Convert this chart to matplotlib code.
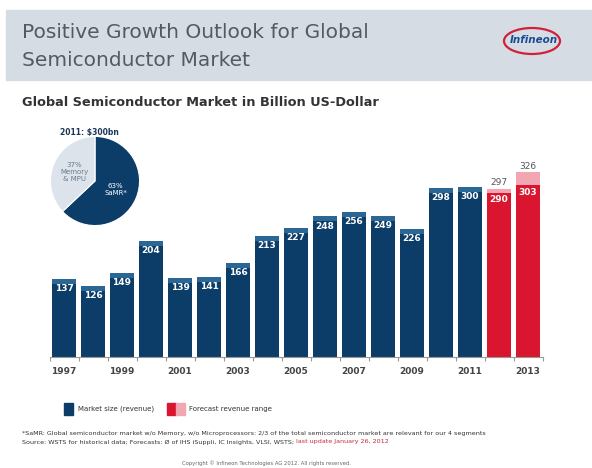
import matplotlib.pyplot as plt
from matplotlib.patches import Rectangle, Ellipse

# market size in billion US-Dollar
years = list(range(1997, 2014))
revenue = [137, 126, 149, 204, 139, 141, 166, 213, 227, 248, 256, 249, 226, 298, 300]
forecast_years = [2012, 2013]
forecast_low = [290, 303]
forecast_high = [297, 326]

pie_values = [63, 37]
pie_labels = ['63%\nSaMR*', '37%\nMemory\n& MPU']

navy = '#0c3d69'
navy_top = '#2b6794'
red = '#d9152f'
pink = '#f2a6b2'

W, H = 592, 468
fig = plt.figure(figsize=(W / 100, H / 100), dpi=100)


def fx(px):
    return px / W


def fy(py):
    return 1 - py / H


# header band
fig.patches.append(Rectangle((fx(6), fy(80)), fx(586), 70 / H, transform=fig.transFigure,
                             color='#d6dce4', zorder=0))
fig.text(fx(22), fy(32), 'Positive Growth Outlook for Global', fontsize=14.5, color='#555a60',
         va='center', family='DejaVu Sans')
fig.text(fx(22), fy(60), 'Semiconductor Market', fontsize=14.5, color='#555a60',
         va='center', family='DejaVu Sans')

# logo
fig.patches.append(Ellipse((fx(532), fy(41)), fx(56), 26 / H, transform=fig.transFigure,
                           fill=False, edgecolor='#d0203a', lw=1.6, zorder=2))
fig.text(fx(534), fy(40), 'Infineon', fontsize=7.5, color='#1a4c96', weight='bold',
         style='italic', ha='center', va='center', zorder=3)

fig.text(fx(22), fy(103), 'Global Semiconductor Market in Billion US-Dollar', fontsize=9.3,
         weight='bold', color='#333333', va='center')

# bar chart
ax = fig.add_axes([fx(49.5), fy(357), fx(493), 192.8 / H])
ax.set_xlim(-0.5, len(years) - 0.5)
ax.set_ylim(0, 340)
bw = 0.86
cap = 9

xs = list(range(len(revenue)))
ax.bar(xs, revenue, width=bw, color=navy, zorder=2)
ax.bar(xs, [cap] * len(revenue), bottom=[v - cap for v in revenue], width=bw,
       color=navy_top, zorder=3)
for x, v in zip(xs, revenue):
    ax.text(x, v - 17, str(v), ha='center', va='center', color='white', fontsize=6.5,
            weight='bold', zorder=4)

fxs = [years.index(y) for y in forecast_years]
ax.bar(fxs, forecast_low, width=bw, color=red, zorder=2)
ax.bar(fxs, [h - l for l, h in zip(forecast_low, forecast_high)], bottom=forecast_low,
       width=bw, color=pink, zorder=2)
for x, lo, hi in zip(fxs, forecast_low, forecast_high):
    ax.text(x, lo - 13, str(lo), ha='center', va='center', color='white', fontsize=6.5,
            weight='bold', zorder=4)
    ax.text(x, hi + 10, str(hi), ha='center', va='center', color='#555555', fontsize=6.5,
            zorder=4)

for s in ['top', 'right', 'left']:
    ax.spines[s].set_visible(False)
ax.spines['bottom'].set_color('#999999')
ax.spines['bottom'].set_linewidth(0.8)
ax.set_yticks([])
ax.set_xticks(range(0, len(years), 2))
ax.set_xticklabels([str(y) for y in years[::2]], fontsize=6.5, color='#444444', weight='bold')
ax.tick_params(axis='x', length=0, pad=7)
ax.set_xticks([i + 0.5 for i in range(-1, len(years))], minor=True)
ax.tick_params(axis='x', which='minor', length=3, color='#999999', width=0.8)
ax.patch.set_alpha(0)

# pie inset
pax = fig.add_axes([fx(50), fy(226), fx(90), 90 / H])
wedges, texts = pax.pie(pie_values, colors=[navy, '#dde3eb'], startangle=90, counterclock=False,
                        labels=pie_labels, labeldistance=0.5,
                        wedgeprops=dict(edgecolor='white', linewidth=0.8))
pax.set_xlim(-1.01, 1.01)
pax.set_ylim(-1.01, 1.01)
texts[0].set_color('white')
texts[1].set_color('#6a7a8c')
for t in texts:
    t.set_fontsize(5)
    t.set_ha('center')
    t.set_va('center')
fig.text(fx(89), fy(133), r'2011: \$300bn', fontsize=5.5, weight='bold', color='#1c3658',
         ha='center', va='center')

# legend
fig.patches.append(Rectangle((fx(64), fy(415)), fx(9), 12 / H, transform=fig.transFigure,
                             color=navy))
fig.text(fx(78), fy(409), 'Market size (revenue)', fontsize=5, color='#333333', va='center')
fig.patches.append(Rectangle((fx(167), fy(415)), fx(9), 12 / H, transform=fig.transFigure,
                             color=red))
fig.patches.append(Rectangle((fx(176), fy(415)), fx(9), 12 / H, transform=fig.transFigure,
                             color=pink))
fig.text(fx(189), fy(409), 'Forecast revenue range', fontsize=5, color='#333333', va='center')

# footnotes
fig.text(fx(22), fy(433), '*SaMR: Global semiconductor market w/o Memory, w/o Microprocessors: '
         '2/3 of the total semiconductor market are relevant for our 4 segments',
         fontsize=4.6, color='#333333', va='center')
src = fig.text(fx(22), fy(442), 'Source: WSTS for historical data; Forecasts: Ø of IHS iSuppli, '
               'IC Insights, VLSI, WSTS; ', fontsize=4.6, color='#333333', va='center')
fig.canvas.draw()
src_end = src.get_window_extent().x1 / W
fig.text(src_end, fy(442), 'last update January 26, 2012', fontsize=4.6, color='#c8283c',
         va='center')
fig.text(fx(267), fy(463), 'Copyright © Infineon Technologies AG 2012. All rights reserved.',
         fontsize=3.8, color='#666666', ha='center', va='center')

fig.savefig('out.png', dpi=100)
